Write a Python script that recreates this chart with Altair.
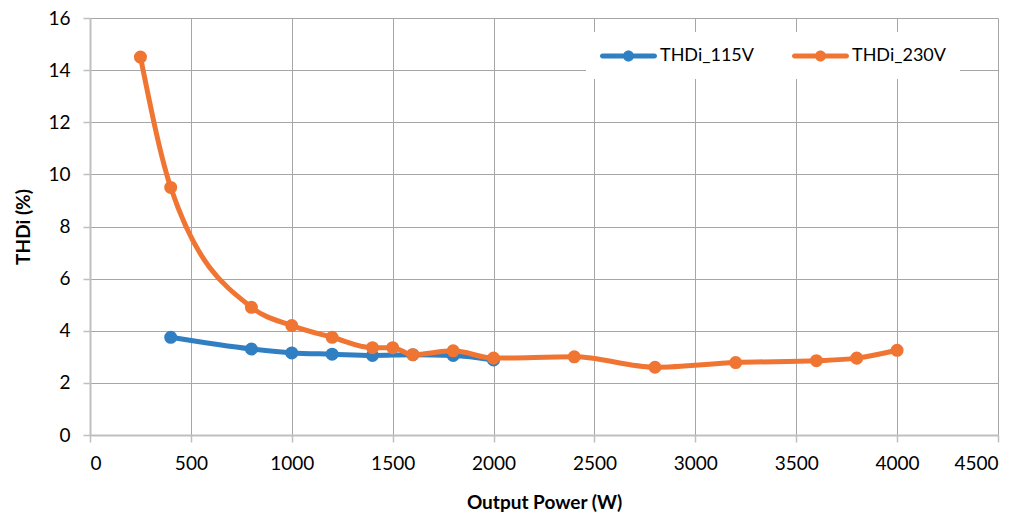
import altair as alt
import pandas as pd

power_115 = [400, 800, 1000, 1200, 1400, 1600, 1800, 2000]
thdi_115 = [3.75, 3.3, 3.15, 3.1, 3.05, 3.08, 3.05, 2.88]

power_230 = [250, 400, 800, 1000, 1200, 1400, 1500, 1600, 1800, 2000, 2400, 2800, 3200, 3600, 3800, 4000]
thdi_230 = [14.5, 9.5, 4.9, 4.2, 3.75, 3.35, 3.35, 3.08, 3.23, 2.95, 3.0, 2.6, 2.78, 2.85, 2.95, 3.25]

series = ["THDi_115V", "THDi_230V"]
colors = ["#2F7FC2", "#F07532"]

df = pd.concat([
    pd.DataFrame({"power": power_115, "thdi": thdi_115, "series": series[0]}),
    pd.DataFrame({"power": power_230, "thdi": thdi_230, "series": series[1]}),
])

FONT = "Lato"

# legend glyph: a thick rounded line with a dot in the middle (units of 10 px)
LEGEND_PATH = ("M-0.75,-0.25 L4.45,-0.25 A0.25,0.25 0 0,1 4.45,0.25 "
               "L-0.75,0.25 A0.25,0.25 0 0,1 -0.75,-0.25 Z "
               "M1.3,0 A0.55,0.55 0 1,1 2.4,0 A0.55,0.55 0 1,1 1.3,0 Z")

x = alt.X("power:Q", title="Output Power (W)",
          scale=alt.Scale(domain=[0, 4500], nice=False),
          axis=alt.Axis(values=list(range(0, 4501, 500)), format="d"))
y = alt.Y("thdi:Q", title="THDi (%)",
          scale=alt.Scale(domain=[0, 16], nice=False),
          axis=alt.Axis(values=list(range(0, 17, 2))))
color = alt.Color("series:N", scale=alt.Scale(domain=series, range=colors),
                  legend=alt.Legend(title=None, orient="none", direction="horizontal",
                                    legendX=496, legendY=14,
                                    symbolType=LEGEND_PATH, symbolStrokeWidth=0,
                                    symbolSize=400, labelOffset=40, columnPadding=38,
                                    labelFontSize=18, labelFont=FONT, labelColor="#000000",
                                    fillColor="white", padding=14))

base = alt.Chart(df).encode(x=x, y=y, color=color)

layers = []
for s in series:
    b = base.transform_filter(alt.datum.series == s)
    layers.append(b.mark_line(strokeWidth=5, interpolate="monotone"))
    layers.append(b.mark_point(filled=True, size=170, opacity=1))

chart = alt.layer(*layers).properties(
    width=908, height=417,
    autosize=alt.AutoSizeParams(type="none"),
    padding={"left": 82, "top": 10, "right": 19, "bottom": 84},
).configure_view(stroke=None).configure_axis(
    grid=True, gridColor="#A6A6A6", gridWidth=1,
    domainColor="#BFBFBF", domainWidth=2,
    tickColor="#BFBFBF", tickSize=7, tickWidth=1.5,
    labelFont=FONT, labelFontSize=19, labelColor="#000000",
    titleFont=FONT, titleFontSize=19, titleFontWeight="bold", titleColor="#000000",
).configure_axisX(labelPadding=12, titlePadding=20).configure_axisY(labelPadding=13, titlePadding=14)

chart.save("out.html", embed_options={"renderer": "svg", "actions": False})
